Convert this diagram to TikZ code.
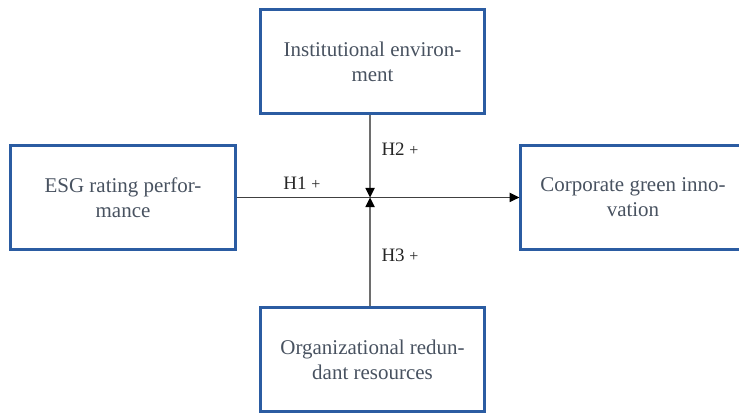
\documentclass[tikz,border=0pt]{standalone}
\usepackage{fontspec}
\setmainfont{Liberation Serif}
\usepackage{tikz}
\usetikzlibrary{arrows.meta}

\definecolor{boxblue}{RGB}{43,92,162}
\definecolor{boxtext}{RGB}{72,82,96}
\definecolor{linkgray}{RGB}{110,110,110}

\begin{document}
\begin{tikzpicture}[
    varbox/.style={draw=boxblue, line width=1.4pt, minimum width=3.95cm,
      minimum height=1.84cm, align=center, text=boxtext,
      font=\fontsize{10.5}{12.6}\selectfont},
    link/.style={draw=linkgray, line width=0.6pt},
    tip/.style={-{Triangle[length=4.8pt,width=4.6pt,color=black]}},
    hyp/.style={text=black!85, font=\fontsize{9.5}{11}\selectfont}]
    \useasboundingbox (0,0) rectangle (13,7.265);
    \clip (0,0) rectangle (13,7.265);
    % the four variables
    \node[varbox] (inst) at (6.553,6.183) {Institutional environ-\\ment};
    \node[varbox] (esg) at (2.164,3.791) {ESG rating perfor-\\mance};
    \node[varbox] (cgi) at (11.135,3.791) {Corporate green inno-\\vation};
    \node[varbox] (ord) at (6.553,0.941) {Organizational redun-\\dant resources};
    \coordinate (mid) at (6.51,3.791);% where the moderators meet the main path
    % main effect and the two moderators
    \draw[link,tip,draw=black!75] (esg.east) -- (cgi.west);
    \draw[link,tip] (inst.south -| mid) -- (mid);
    \draw[link,tip] (ord.north -| mid) -- (mid);
    \node[hyp] (h1) at (5.312,4.046) {H1 {\fontsize{8}{9}\selectfont +}};
    \node[hyp] (h2) at (7.036,4.644) {H2 {\fontsize{8}{9}\selectfont +}};
    \node[hyp] (h3) at (7.036,2.779) {H3 {\fontsize{8}{9}\selectfont +}};
\end{tikzpicture}
\end{document}
